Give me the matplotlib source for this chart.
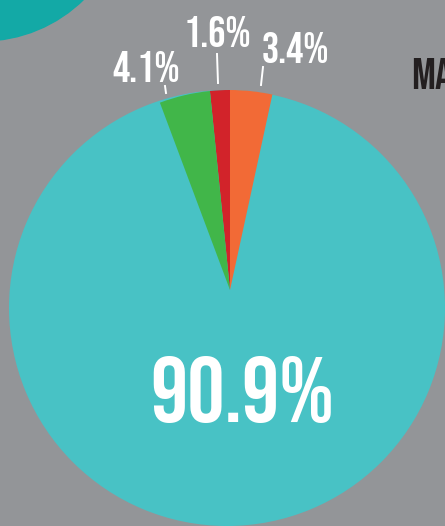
import matplotlib
matplotlib.use("Agg")
import matplotlib.pyplot as plt
from matplotlib.patches import Circle

# ---- data ----
shares = [3.4, 1.6, 4.1, 90.9]          # counterclockwise from the top-right
slice_colors = ["#F26A36", "#D2232A", "#41B649", "#48C2C5"]
small_labels = [f"{v}%" for v in shares[:3]]
big_label = f"{shares[3]}%"
side_heading = "MA"

# ---- theme ----
BG = "#939598"
DARK_TEAL = "#13A9A6"
WHITE = "#FFFFFF"
INK = "#231F20"
FONT = ["Bebas Neue", "DejaVu Sans"]

W, H = 445, 526


def py(y):
    """pixel row (from top) -> data y"""
    return H - y


fig = plt.figure(figsize=(W / 100, H / 100), dpi=100)
fig.patch.set_facecolor(BG)
ax = fig.add_axes([0, 0, 1, 1])

# decorative circle poking in from the top-left corner
ax.add_patch(Circle((-18, py(-104)), 145, color=DARK_TEAL, zorder=1))

apex = (230, py(290))
wedges, _ = ax.pie(shares, colors=slice_colors, startangle=90 - shares[0] * 3.6,
                   counterclock=True, center=apex, radius=200,
                   wedgeprops=dict(linewidth=0), frame=True)
ax.set_xlim(0, W)
ax.set_ylim(0, H)
ax.set_aspect("equal")
ax.axis("off")

# the large share is drawn as the full disc behind the thin slices
big = wedges[3]
big.set_center((227, py(308)))
big.set_radius(218)
big.set_theta1(0)
big.set_theta2(360)
big.set_zorder(2)
for w in wedges[:3]:
    w.set_zorder(3)

# labels for the thin slices, with short leader lines
label_pos = [(295.5, 63), (217.5, 47), (146, 82)]
leaders = [((263, 67), (261, 85)), ((217, 54), (218, 83)), ((165, 86), (166, 93))]
for txt, (lx, ly), ((x0, y0), (x1, y1)) in zip(small_labels, label_pos, leaders):
    ax.text(lx, py(ly), txt, ha="center", va="baseline", color=WHITE,
            fontsize=31, family=FONT, zorder=5)
    ax.plot([x0, x1], [py(y0), py(y1)], color=WHITE, linewidth=1.4, zorder=5)

ax.text(242, py(422), big_label, ha="center", va="baseline", color=WHITE,
        fontsize=67, family=FONT, zorder=5)

ax.text(411, py(89), side_heading, ha="left", va="baseline", color=INK,
        fontsize=32, family=FONT, zorder=5)

fig.savefig("out.png", dpi=100, facecolor=fig.get_facecolor())
